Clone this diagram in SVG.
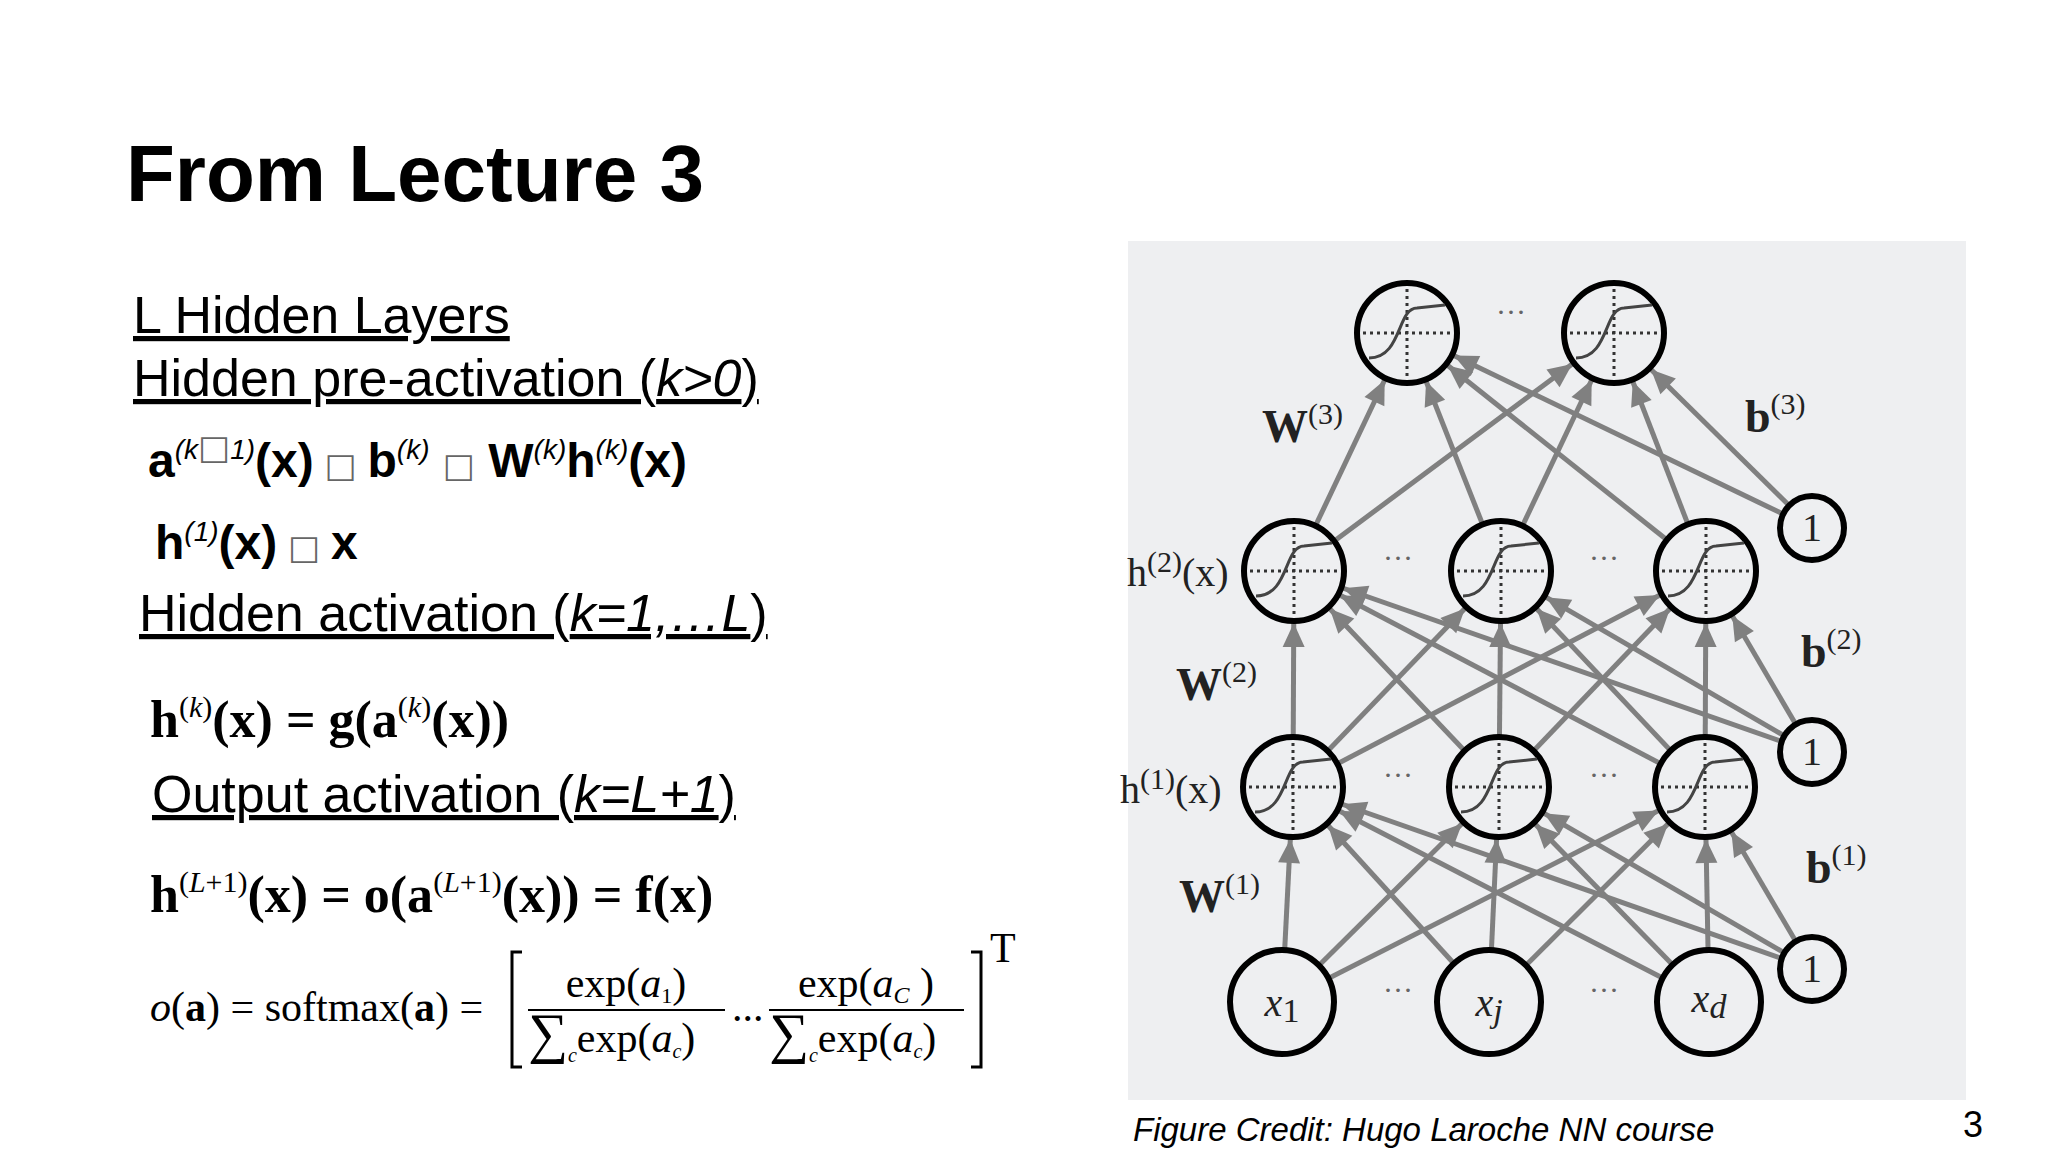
<svg xmlns="http://www.w3.org/2000/svg" width="2048" height="1152" viewBox="0 0 2048 1152">
<style>
.title{font-family:"Liberation Sans",Arial,sans-serif;font-weight:bold;font-size:80px;fill:#000}
.h{font-family:"Liberation Sans",Arial,sans-serif;font-size:52px;fill:#000;text-decoration:underline}
.eq{font-family:"Liberation Sans",Arial,sans-serif;font-weight:bold;font-size:48px;fill:#000}
.sup{font-family:"Liberation Sans",Arial,sans-serif;font-weight:normal;font-style:italic;font-size:28px}
.box{font-family:"DejaVu Sans",sans-serif;font-weight:normal;font-size:34px;fill:#666}
.sr{font-family:"Liberation Serif","Times New Roman",serif;font-weight:bold;font-size:52px;fill:#000}
.srs{font-family:"Liberation Serif",serif;font-weight:normal;font-size:30px}
.sm{font-family:"Liberation Serif",serif;font-size:42px;fill:#000}
.lab{font-family:"Liberation Serif",serif;font-size:40px;fill:#222}
.labb{font-family:"Liberation Serif",serif;font-weight:bold;font-size:46px;fill:#222}
.lsup{font-family:"Liberation Serif",serif;font-weight:normal;font-size:30px}
.dots{font-family:"Liberation Serif",serif;font-size:30px;fill:#666}
.edge{stroke:#808080;stroke-width:5;fill:none;marker-end:url(#arr)}
.nd{fill:#eeeff1;stroke:#000;stroke-width:6}
.cap{font-family:"Liberation Sans",Arial,sans-serif;font-style:italic;font-size:33px;fill:#000}
.pg{font-family:"Liberation Sans",Arial,sans-serif;font-size:36px;fill:#000}
</style>
<defs>
<marker id="arr" markerUnits="userSpaceOnUse" viewBox="-80 -20 100 40" refX="0" refY="0" markerWidth="100" markerHeight="40" orient="auto" overflow="visible">
<path d="M-52,0 L-76,-11 L-76,11 z" fill="#808080"/>
</marker>
<g id="sig">
<line x1="-44" y1="0" x2="44" y2="0" stroke="#333" stroke-width="3" stroke-dasharray="3,4"/>
<line x1="0" y1="-44" x2="0" y2="44" stroke="#333" stroke-width="3" stroke-dasharray="3,4"/>
<path d="M-38,25 C-5,25 -10,-25 10,-25 L38,-28" stroke="#444" stroke-width="3" fill="none"/>
</g>
</defs>
<rect width="2048" height="1152" fill="#fff"/>
<text class="title" x="126" y="201">From Lecture 3</text>
<text class="h" x="133" y="333">L Hidden Layers</text>
<text class="h" x="133" y="396">Hidden pre-activation (<tspan font-style="italic">k&gt;0</tspan>)</text>
<text class="eq" x="148" y="477">a<tspan class="sup" dy="-18">(k<tspan class="box" font-size="24px">□</tspan>1)</tspan><tspan dy="18">(x)</tspan><tspan class="box"> □ </tspan>b<tspan class="sup" dy="-18">(k)</tspan><tspan dy="18"> </tspan><tspan class="box">□</tspan> W<tspan class="sup" dy="-18">(k)</tspan><tspan dy="18">h</tspan><tspan class="sup" dy="-18">(k)</tspan><tspan dy="18">(x)</tspan></text>
<text class="eq" x="155" y="559">h<tspan class="sup" dy="-18">(1)</tspan><tspan dy="18">(x)</tspan><tspan class="box"> □ </tspan>x</text>
<text class="h" x="139" y="631">Hidden activation (<tspan font-style="italic">k=1,…L</tspan>)</text>
<text class="sr" x="150" y="737">h<tspan class="srs" dy="-20">(<tspan font-style="italic">k</tspan>)</tspan><tspan dy="20">(x) = g(a</tspan><tspan class="srs" dy="-20">(<tspan font-style="italic">k</tspan>)</tspan><tspan dy="20">(x))</tspan></text>
<text class="h" x="152" y="812">Output activation (<tspan font-style="italic">k=L+1</tspan>)</text>
<text class="sr" x="150" y="912">h<tspan class="srs" dy="-20">(<tspan font-style="italic">L</tspan>+1)</tspan><tspan dy="20">(x) = o(a</tspan><tspan class="srs" dy="-20">(<tspan font-style="italic">L</tspan>+1)</tspan><tspan dy="20">(x)) = f(x)</tspan></text>
<text class="sm" x="150" y="1021"><tspan font-style="italic">o</tspan>(<tspan font-weight="bold">a</tspan>) = softmax(<tspan font-weight="bold">a</tspan>) =</text>
<path d="M522,952 L512,952 L512,1067 L522,1067 M971,952 L981,952 L981,1067 L971,1067" stroke="#000" stroke-width="3" fill="none"/>
<text class="sm" x="990" y="962" font-size="20px">T</text>
<text class="sm" x="626" y="997" text-anchor="middle">exp(<tspan font-style="italic">a</tspan><tspan font-size="22px" dy="6">1</tspan><tspan dy="-6">)</tspan></text>
<line x1="528" y1="1010" x2="725" y2="1010" stroke="#000" stroke-width="2"/>
<text class="sm" x="528" y="1052"><tspan font-size="56px">∑</tspan><tspan font-size="20px" font-style="italic" dy="10">c</tspan><tspan dy="-10">exp(</tspan><tspan font-style="italic">a</tspan><tspan font-size="20px" font-style="italic" dy="6">c</tspan><tspan dy="-6">)</tspan></text>
<text class="sm" x="732" y="1021" font-size="34px">...</text>
<text class="sm" x="866" y="997" text-anchor="middle">exp(<tspan font-style="italic">a</tspan><tspan font-size="24px" font-style="italic" dy="6">C</tspan><tspan dy="-6"> )</tspan></text>
<line x1="769" y1="1010" x2="964" y2="1010" stroke="#000" stroke-width="2"/>
<text class="sm" x="769" y="1052"><tspan font-size="56px">∑</tspan><tspan font-size="20px" font-style="italic" dy="10">c</tspan><tspan dy="-10">exp(</tspan><tspan font-style="italic">a</tspan><tspan font-size="20px" font-style="italic" dy="6">c</tspan><tspan dy="-6">)</tspan></text>
<rect x="1128" y="241" width="838" height="859" fill="#eeeff1"/>
<g id="connectors">
<line class="edge" x1="1282" y1="1002" x2="1293" y2="787"/>
<line class="edge" x1="1282" y1="1002" x2="1499" y2="787"/>
<line class="edge" x1="1282" y1="1002" x2="1705" y2="787"/>
<line class="edge" x1="1489" y1="1002" x2="1293" y2="787"/>
<line class="edge" x1="1489" y1="1002" x2="1499" y2="787"/>
<line class="edge" x1="1489" y1="1002" x2="1705" y2="787"/>
<line class="edge" x1="1709" y1="1002" x2="1293" y2="787"/>
<line class="edge" x1="1709" y1="1002" x2="1499" y2="787"/>
<line class="edge" x1="1709" y1="1002" x2="1705" y2="787"/>
<line class="edge" x1="1812" y1="969" x2="1293" y2="787"/>
<line class="edge" x1="1812" y1="969" x2="1499" y2="787"/>
<line class="edge" x1="1812" y1="969" x2="1705" y2="787"/>
<line class="edge" x1="1293" y1="787" x2="1294" y2="571"/>
<line class="edge" x1="1293" y1="787" x2="1501" y2="571"/>
<line class="edge" x1="1293" y1="787" x2="1706" y2="571"/>
<line class="edge" x1="1499" y1="787" x2="1294" y2="571"/>
<line class="edge" x1="1499" y1="787" x2="1501" y2="571"/>
<line class="edge" x1="1499" y1="787" x2="1706" y2="571"/>
<line class="edge" x1="1705" y1="787" x2="1294" y2="571"/>
<line class="edge" x1="1705" y1="787" x2="1501" y2="571"/>
<line class="edge" x1="1705" y1="787" x2="1706" y2="571"/>
<line class="edge" x1="1812" y1="752" x2="1294" y2="571"/>
<line class="edge" x1="1812" y1="752" x2="1501" y2="571"/>
<line class="edge" x1="1812" y1="752" x2="1706" y2="571"/>
<line class="edge" x1="1294" y1="571" x2="1407" y2="333"/>
<line class="edge" x1="1294" y1="571" x2="1614" y2="333"/>
<line class="edge" x1="1501" y1="571" x2="1407" y2="333"/>
<line class="edge" x1="1501" y1="571" x2="1614" y2="333"/>
<line class="edge" x1="1706" y1="571" x2="1407" y2="333"/>
<line class="edge" x1="1706" y1="571" x2="1614" y2="333"/>
<line class="edge" x1="1812" y1="528" x2="1407" y2="333"/>
<line class="edge" x1="1812" y1="528" x2="1614" y2="333"/>
</g>
<g id="out1"><circle class="nd" cx="1407" cy="333" r="50"/><use href="#sig" x="1407" y="333"/></g>
<g id="out2"><circle class="nd" cx="1614" cy="333" r="50"/><use href="#sig" x="1614" y="333"/></g>
<g id="h2a"><circle class="nd" cx="1294" cy="571" r="50"/><use href="#sig" x="1294" y="571"/></g>
<g id="h2b"><circle class="nd" cx="1501" cy="571" r="50"/><use href="#sig" x="1501" y="571"/></g>
<g id="h2c"><circle class="nd" cx="1706" cy="571" r="50"/><use href="#sig" x="1706" y="571"/></g>
<g id="h1a"><circle class="nd" cx="1293" cy="787" r="50"/><use href="#sig" x="1293" y="787"/></g>
<g id="h1b"><circle class="nd" cx="1499" cy="787" r="50"/><use href="#sig" x="1499" y="787"/></g>
<g id="h1c"><circle class="nd" cx="1705" cy="787" r="50"/><use href="#sig" x="1705" y="787"/></g>
<g id="b3"><circle class="nd" cx="1812" cy="528" r="32"/><text class="lab" x="1812" y="541" text-anchor="middle" fill="#777">1</text></g>
<g id="b2"><circle class="nd" cx="1812" cy="752" r="32"/><text class="lab" x="1812" y="765" text-anchor="middle" fill="#777">1</text></g>
<g id="b1"><circle class="nd" cx="1812" cy="969" r="32"/><text class="lab" x="1812" y="982" text-anchor="middle" fill="#777">1</text></g>
<g id="x1"><circle class="nd" cx="1282" cy="1002" r="52"/><text class="lab" x="1282" y="1016" text-anchor="middle" font-style="italic" font-size="46px">x<tspan font-style="normal" font-size="34px" dy="6">1</tspan></text></g>
<g id="xj"><circle class="nd" cx="1489" cy="1002" r="52"/><text class="lab" x="1489" y="1016" text-anchor="middle" font-style="italic" font-size="46px">x<tspan font-size="34px" dy="6">j</tspan></text></g>
<g id="xd"><circle class="nd" cx="1709" cy="1002" r="52"/><text class="lab" x="1709" y="1012" text-anchor="middle" font-style="italic" font-size="46px">x<tspan font-size="34px" dy="6">d</tspan></text></g>
<text class="dots" x="1511" y="322" text-anchor="middle">···</text>
<text class="dots" x="1398" y="568" text-anchor="middle">···</text>
<text class="dots" x="1604" y="568" text-anchor="middle">···</text>
<text class="dots" x="1398" y="785" text-anchor="middle">···</text>
<text class="dots" x="1604" y="785" text-anchor="middle">···</text>
<text class="dots" x="1398" y="1000" text-anchor="middle">···</text>
<text class="dots" x="1604" y="1000" text-anchor="middle">···</text>
<text class="labb" x="1262" y="442">W<tspan class="lsup" dy="-18">(3)</tspan></text>
<text class="labb" x="1745" y="432">b<tspan class="lsup" dy="-18">(3)</tspan></text>
<text class="lab" x="1127" y="586">h<tspan class="lsup" dy="-14">(2)</tspan><tspan dy="14">(x)</tspan></text>
<text class="labb" x="1176" y="700">W<tspan class="lsup" dy="-18">(2)</tspan></text>
<text class="labb" x="1801" y="667">b<tspan class="lsup" dy="-18">(2)</tspan></text>
<text class="lab" x="1120" y="803">h<tspan class="lsup" dy="-14">(1)</tspan><tspan dy="14">(x)</tspan></text>
<text class="labb" x="1179" y="912">W<tspan class="lsup" dy="-18">(1)</tspan></text>
<text class="labb" x="1806" y="883">b<tspan class="lsup" dy="-18">(1)</tspan></text>
<text class="cap" x="1133" y="1141">Figure Credit: Hugo Laroche NN course</text>
<text class="pg" x="1963" y="1137">3</text>
</svg>
